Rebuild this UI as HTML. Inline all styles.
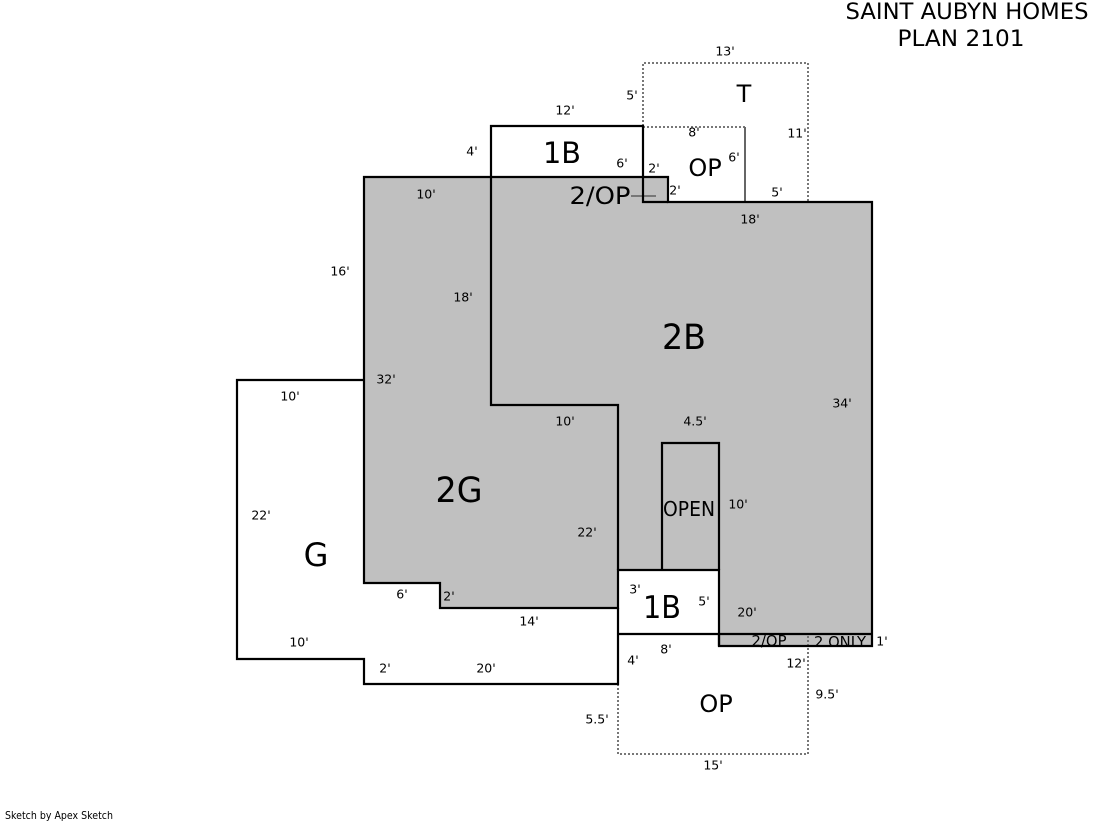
<!DOCTYPE html>
<html><head><meta charset="utf-8"><style>
html,body{margin:0;padding:0;background:#fff;width:1119px;height:821px;overflow:hidden}
svg{display:block}
text{font-family:"DejaVu Sans",Verdana,sans-serif;fill:#000;text-anchor:middle}
.d{font-size:12.5px}
.m{font-size:24px}
</style></head><body>
<svg width="1119" height="821" viewBox="0 0 1119 821" xmlns="http://www.w3.org/2000/svg">
<rect width="1119" height="821" fill="#fff"/>
<polygon points="364,177 668,177 668,202 872,202 872,646 719,646 719,570 618,570 618,608 440,608 440,583 364,583" fill="#c0c0c0"/>
<text x="769" y="646" style="font-size:15px" textLength="35" lengthAdjust="spacingAndGlyphs">2/OP</text>
<text x="840" y="647" style="font-size:15px" textLength="52" lengthAdjust="spacingAndGlyphs">2 ONLY</text>
<g fill="none" stroke="#777" stroke-width="2" stroke-dasharray="2 2">
<polyline points="643,126 643,63 808,63 808,202"/>
<polyline points="643,127 745,127"/>
<polyline points="618,684 618,754 808,754 808,634"/>
</g>
<line x1="745" y1="127" x2="745" y2="202" stroke="#666" stroke-width="2"/>
<line x1="631" y1="196" x2="656" y2="196" stroke="#777" stroke-width="2"/>
<g fill="none" stroke="#000" stroke-width="2.2">
<polygon points="364,177 668,177 668,202 872,202 872,646 719,646 719,570 618,570 618,608 440,608 440,583 364,583"/>
<polyline points="491,177 491,126 643,126 643,202 668,202"/>
<polyline points="491,177 491,405 618,405 618,570"/>
<polyline points="364,380 237,380 237,659 364,659 364,684 618,684 618,608"/>
<polyline points="662,570 662,443 719,443 719,570"/>
<polyline points="618,634 719,634 719,646"/>
<line x1="719" y1="634" x2="872" y2="634"/>
</g>
<text x="967" y="19" font-size="22" textLength="243" lengthAdjust="spacingAndGlyphs">SAINT AUBYN HOMES</text>
<text x="961" y="46" font-size="22" textLength="127" lengthAdjust="spacingAndGlyphs">PLAN 2101</text>
<text class="m" x="744" y="102">T</text>
<text x="562" y="163" style="font-size:29px" textLength="38" lengthAdjust="spacingAndGlyphs">1B</text>
<text class="m" x="705" y="176">OP</text>
<text class="m" x="600" y="204" textLength="61" lengthAdjust="spacingAndGlyphs">2/OP</text>
<text x="684" y="349" style="font-size:35px" textLength="44" lengthAdjust="spacingAndGlyphs">2B</text>
<text x="459" y="502" style="font-size:35px" textLength="47" lengthAdjust="spacingAndGlyphs">2G</text>
<text x="316" y="566" style="font-size:32px">G</text>
<text x="689" y="516" style="font-size:20px" textLength="52" lengthAdjust="spacingAndGlyphs">OPEN</text>
<text x="662" y="618" style="font-size:31px" textLength="38" lengthAdjust="spacingAndGlyphs">1B</text>
<text class="m" x="716" y="712">OP</text>
<g class="d" transform="translate(0,-0.5)">
<text x="725" y="56">13'</text>
<text x="632" y="100">5'</text>
<text x="565" y="115">12'</text>
<text x="694" y="137">8'</text>
<text x="797" y="138">11'</text>
<text x="472" y="156">4'</text>
<text x="622" y="168">6'</text>
<text x="734" y="162">6'</text>
<text x="654" y="173">2'</text>
<text x="675" y="195">2'</text>
<text x="777" y="197">5'</text>
<text x="426" y="199">10'</text>
<text x="750" y="224">18'</text>
<text x="340" y="276">16'</text>
<text x="463" y="302">18'</text>
<text x="386" y="384">32'</text>
<text x="290" y="401">10'</text>
<text x="842" y="408">34'</text>
<text x="565" y="426">10'</text>
<text x="695" y="426">4.5'</text>
<text x="738" y="509">10'</text>
<text x="261" y="520">22'</text>
<text x="587" y="537">22'</text>
<text x="635" y="594">3'</text>
<text x="402" y="599">6'</text>
<text x="449" y="601">2'</text>
<text x="704" y="606">5'</text>
<text x="747" y="617">20'</text>
<text x="529" y="626">14'</text>
<text x="882" y="646">1'</text>
<text x="299" y="647">10'</text>
<text x="666" y="654">8'</text>
<text x="633" y="665">4'</text>
<text x="796" y="668">12'</text>
<text x="385" y="673">2'</text>
<text x="486" y="673">20'</text>
<text x="827" y="699">9.5'</text>
<text x="597" y="724">5.5'</text>
<text x="713" y="770">15'</text>
</g>
<text x="59" y="819" font-size="11" textLength="108" lengthAdjust="spacingAndGlyphs">Sketch by Apex Sketch</text>
</svg>
</body></html>
